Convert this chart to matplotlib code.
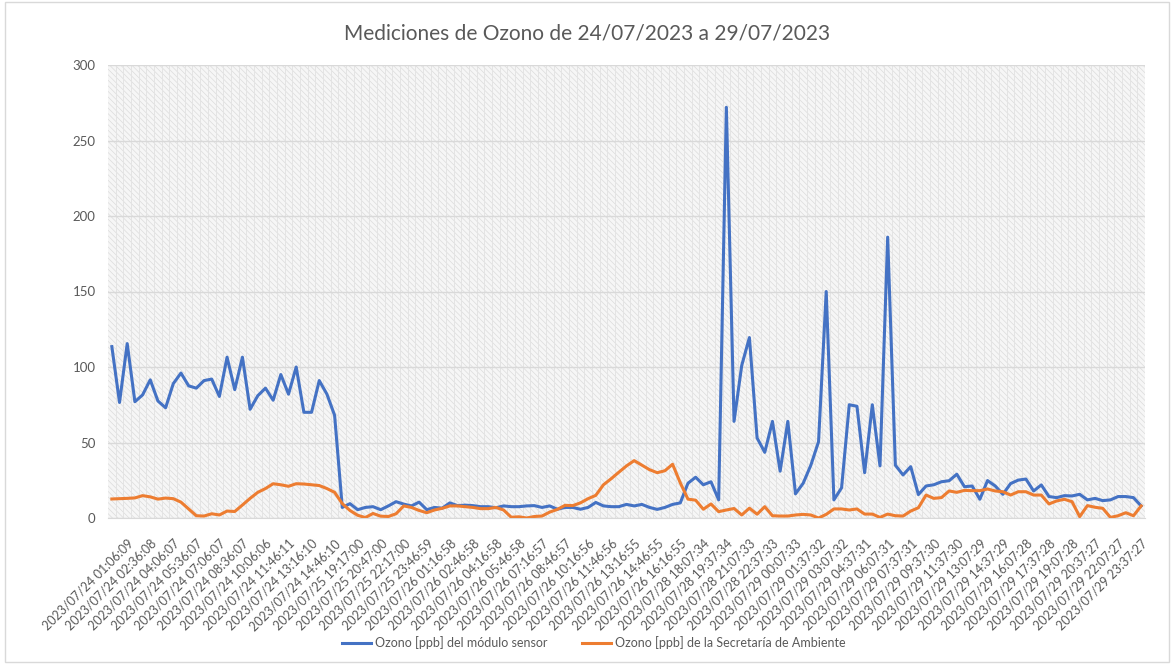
import matplotlib.pyplot as plt
from matplotlib.patches import Rectangle

# Ozono [ppb], una lectura por categoría (135 registros)
sensor = [
    113.5, 76.5, 115.5, 77, 81.5, 91.5, 77.5, 73, 89, 96,
    87.5, 86, 91, 92, 80.5, 106.5, 85, 106.5, 72, 81,
    86, 78, 95, 82, 100, 70, 70, 91, 82, 68,
    7, 9.5, 5.5, 7, 7.5, 5.5, 8, 10.8, 9.2, 8,
    10.5, 5.5, 7, 6.5, 10, 8.2, 8.5, 8.2, 7.5, 7.5,
    6.8, 8, 7.5, 7.5, 8, 8.2, 7, 8, 5.8, 7,
    7, 5.8, 7, 10.3, 8, 7.5, 7.5, 9, 8, 9,
    7, 5.7, 7, 9, 10, 23, 27, 22, 24, 12,
    272, 64, 101, 119.5, 53, 43.5, 64, 31, 64, 16,
    23, 35, 50.5, 150, 12, 20, 75, 74, 30, 75,
    34.5, 186, 35, 28.5, 34, 15.5, 21.2, 22, 24, 24.7,
    29, 20.7, 21.2, 12.4, 24.8, 21.2, 15.7, 22.8, 25.1, 25.8,
    17.9, 21.9, 14.2, 13.5, 14.8, 14.6, 15.7, 12, 13, 11.5,
    12, 14.2, 14.2, 13.5, 8,
]
secretaria = [
    12.6, 12.8, 13, 13.3, 14.8, 14, 12.5, 13.2, 12.8, 10.5,
    6, 1.5, 1.3, 2.8, 2, 4.6, 4.3, 8.6, 13, 17,
    19.5, 22.7, 22, 21, 22.7, 22.5, 22, 21.5, 19.5, 17,
    9.5, 5, 1.8, 0.3, 3, 1.2, 1, 2.8, 8, 7,
    5, 3.5, 5.3, 6.4, 8, 8, 7.5, 7, 6.2, 6.2,
    7, 5.3, 0.5, 0.8, 0, 1, 1.3, 3.9, 5.7, 8.4,
    8.2, 10, 12.8, 15, 22, 26, 30.3, 34.5, 38, 35,
    32, 30, 31.3, 35.6, 23.3, 12.5, 11.8, 5.8, 9.3, 4.2,
    5.3, 6.3, 2, 6.5, 2.5, 7.5, 1.5, 1.3, 1.3, 2,
    2.4, 2, 0, 2.4, 6, 6, 5.3, 6, 2.6, 2.6,
    0.4, 2.6, 1.5, 1.3, 4.6, 6.8, 15.2, 13, 13.5, 17.9,
    17, 18.3, 18.1, 18.1, 19.2, 17.9, 17.4, 15.2, 17.4, 17.4,
    15.2, 15.2, 9.3, 11.3, 12.4, 10.8, 0.9, 8.2, 7.1, 6.4,
    0.4, 1.5, 3.5, 1.5, 8,
]
tick_labels = [
    "2023/07/24 01:06:09", "2023/07/24 02:36:08", "2023/07/24 04:06:07",
    "2023/07/24 05:36:07", "2023/07/24 07:06:07", "2023/07/24 08:36:07",
    "2023/07/24 10:06:06", "2023/07/24 11:46:11", "2023/07/24 13:16:10",
    "2023/07/24 14:46:10", "2023/07/25 19:17:00", "2023/07/25 20:47:00",
    "2023/07/25 22:17:00", "2023/07/25 23:46:59", "2023/07/26 01:16:58",
    "2023/07/26 02:46:58", "2023/07/26 04:16:58", "2023/07/26 05:46:58",
    "2023/07/26 07:16:57", "2023/07/26 08:46:57", "2023/07/26 10:16:56",
    "2023/07/26 11:46:56", "2023/07/26 13:16:55", "2023/07/26 14:46:55",
    "2023/07/26 16:16:55", "2023/07/28 18:07:34", "2023/07/28 19:37:34",
    "2023/07/28 21:07:33", "2023/07/28 22:37:33", "2023/07/29 00:07:33",
    "2023/07/29 01:37:32", "2023/07/29 03:07:32", "2023/07/29 04:37:31",
    "2023/07/29 06:07:31", "2023/07/29 07:37:31", "2023/07/29 09:37:30",
    "2023/07/29 11:37:30", "2023/07/29 13:07:29", "2023/07/29 14:37:29",
    "2023/07/29 16:07:28", "2023/07/29 17:37:28", "2023/07/29 19:07:28",
    "2023/07/29 20:37:27", "2023/07/29 22:07:27", "2023/07/29 23:37:27",
]

plt.rcParams['font.family'] = ['Lato', 'DejaVu Sans']
plt.rcParams['hatch.linewidth'] = 0.5
gray = '#595959'

W, H = 1174, 664
fig = plt.figure(figsize=(W / 100, H / 100), dpi=100)
ax = fig.add_axes([108 / W, 1 - 518 / H, (1145 - 108) / W, (518 - 65) / H])

# fondo con trama diagonal del área de trazado
ax.patch.set_alpha(0)
ax.add_patch(Rectangle((0, 0), 1, 1, transform=ax.transAxes, facecolor='#f6f6f6',
                       edgecolor='#dcdcdc', lw=0, hatch='\\' * 6, zorder=0))

n = len(sensor)
x = range(n)
ax.plot(x, sensor, color='#4472C4', lw=2.2, solid_joinstyle='round',
        label='Ozono [ppb] del módulo sensor', zorder=3)
ax.plot(x, secretaria, color='#ED7D31', lw=2.2, solid_joinstyle='round',
        label='Ozono [ppb] de la Secretaría de Ambiente', zorder=3)

ax.set_xlim(-0.5, n - 0.5)
ax.set_ylim(0, 300)
ax.set_yticks(range(0, 301, 50))

ax.set_xticks(range(2, n, 3))
ax.set_xticklabels(tick_labels, rotation=45, ha='right', rotation_mode='anchor')
ax.set_xticks([i + 0.5 for i in range(n - 1)], minor=True)

ax.tick_params(axis='both', length=0, colors=gray, labelsize=9)
ax.tick_params(axis='y', labelsize=9.5, pad=9)
ax.tick_params(axis='x', pad=14)
ax.tick_params(axis='x', which='minor', length=0)

ax.grid(axis='y', color='#d9d9d9', lw=1, zorder=1)
ax.grid(axis='x', which='minor', color='#e4e4e4', lw=0.7, zorder=1)
for side in ['top', 'right', 'left']:
    ax.spines[side].set_visible(False)
ax.spines['bottom'].set_color('#d9d9d9')

fig.text(0.5, 1 - 33 / H, 'Mediciones de Ozono de 24/07/2023 a 29/07/2023',
         ha='center', va='center', fontsize=15, color=gray)

fig.legend(loc='center', bbox_to_anchor=(0.5 + 7 / W, 1 - 643 / H), ncol=2,
           frameon=False, fontsize=9, labelcolor=gray, handlelength=2.3,
           handletextpad=0.3, columnspacing=2.8)

fig.patches.append(Rectangle((5 / W, 2 / H), 1 - 10 / W, 1 - 4 / H,
                             transform=fig.transFigure, fill=False,
                             edgecolor='#d9d9d9', lw=1))

fig.savefig('out.png', dpi=100)
